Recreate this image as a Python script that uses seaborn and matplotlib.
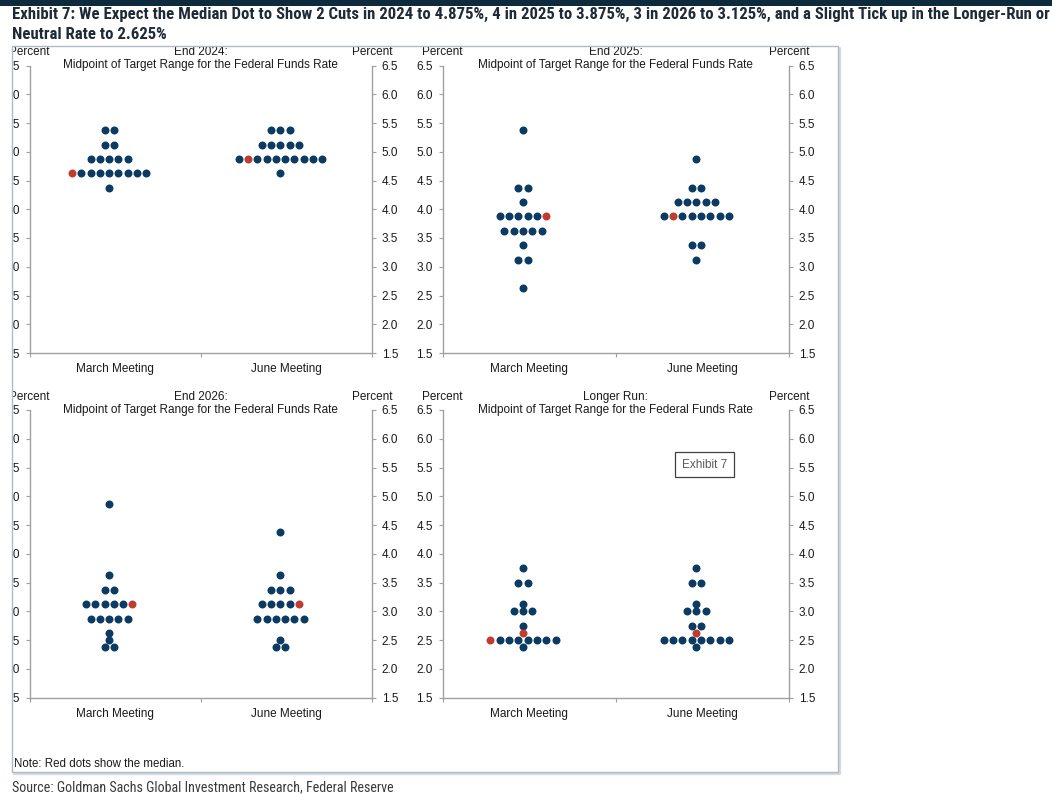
import numpy as np
import pandas as pd
import matplotlib
matplotlib.use("Agg")
import matplotlib.pyplot as plt
import seaborn as sns
from matplotlib.patches import Rectangle
from matplotlib.lines import Line2D
from matplotlib.ticker import FormatStrFormatter
from matplotlib import font_manager as fm

# ---------------- data ----------------
meetings = ["March Meeting", "June Meeting"]
panel_titles = ["End 2024:", "End 2025:", "End 2026:", "Longer Run:"]
subtitle = "Midpoint of Target Range for the Federal Funds Rate"

# each row: rate and a dot pattern (B = participant, R = median, red)
end2024_march_rates = [5.375, 5.125, 4.875, 4.625, 4.375]
end2024_march_dots = ["BB", "BB", "BBBBB", "RBBBBBBBB", "B"]
end2024_june_rates = [5.375, 5.125, 4.875, 4.625]
end2024_june_dots = ["BBB", "BBBBB", "BRBBBBBBBB", "B"]

end2025_march_rates = [5.375, 4.375, 4.125, 3.875, 3.625, 3.375, 3.125, 2.625]
end2025_march_dots = ["B", "BB", "B", "BBBBBR", "BBBBB", "B", "BB", "B"]
end2025_june_rates = [4.875, 4.375, 4.125, 3.875, 3.375, 3.125]
end2025_june_dots = ["B", "BB", "BBBBB", "BRBBBBBB", "BB", "B"]

end2026_march_rates = [4.875, 3.625, 3.375, 3.125, 2.875, 2.625, 2.5, 2.375]
end2026_march_dots = ["B", "B", "BB", "BBBBBR", "BBBBB", "B", "B", "BB"]
end2026_june_rates = [4.375, 3.625, 3.375, 3.125, 2.875, 2.5, 2.375]
end2026_june_dots = ["B", "B", "BBB", "BBBBR", "BBBBBB", "B", "BB"]

longer_march_rates = [3.75, 3.5, 3.125, 3.0, 2.75, 2.625, 2.5, 2.375]
longer_march_dots = ["B", "BB", "B", "BBB", "B", "R", "RBBBBBBB", "B"]
longer_june_rates = [3.75, 3.5, 3.125, 3.0, 2.75, 2.625, 2.5, 2.375]
longer_june_dots = ["B", "BB", "B", "BBB", "BB", "R", "BBBBBBBB", "B"]

y_ticks = [1.5, 2.0, 2.5, 3.0, 3.5, 4.0, 4.5, 5.0, 5.5, 6.0, 6.5]

# ---------------- style ----------------
sns.set_style("white")
names = {f.name for f in fm.fontManager.ttflist}
BASE = next((n for n in ["Liberation Sans", "Arial", "DejaVu Sans"] if n in names), "DejaVu Sans")
COND = next((n for n in ["Liberation Sans Narrow", "Roboto Condensed", "Open Sans Condensed",
                         "DejaVu Sans Condensed", "Liberation Sans", "DejaVu Sans"] if n in names), "DejaVu Sans")
plt.rcParams["font.family"] = [BASE, "DejaVu Sans"]

NAVY = "#0b3a63"
RED = "#c23b30"
GRAY = "#a0a0a0"
TXT = "#1a1a1a"
FS = 8.5

W, H = 1052, 794
fig = plt.figure(figsize=(W / 100, H / 100), dpi=100)


def px_axes(l, t, r, b):
    return fig.add_axes([l / W, 1 - b / H, (r - l) / W, (b - t) / H])


DX = 0.054       # horizontal spacing between dots in a row (data units)
SHIFT = -0.035   # dot columns sit slightly left of category centres


def build(rates, rows, center):
    recs = []
    for rate, row in zip(rates, rows):
        n = len(row)
        for i, c in enumerate(row):
            recs.append({"x": center + SHIFT + (i - (n - 1) / 2) * DX,
                         "rate": rate,
                         "kind": "Median" if c == "R" else "Participant"})
    return pd.DataFrame(recs)


panels = [
    ((29.5, 65.5, 372, 353), end2024_march_rates, end2024_march_dots, end2024_june_rates, end2024_june_dots),
    ((442.5, 65.5, 789, 353), end2025_march_rates, end2025_march_dots, end2025_june_rates, end2025_june_dots),
    ((29.5, 410, 372, 697.7), end2026_march_rates, end2026_march_dots, end2026_june_rates, end2026_june_dots),
    ((442.5, 410, 789, 697.7), longer_march_rates, longer_march_dots, longer_june_rates, longer_june_dots),
]

axes = []
for k, (box, mr, md, jr, jd) in enumerate(panels):
    ax = px_axes(*box)
    axes.append(ax)
    df = pd.concat([build(mr, md, 0.5), build(jr, jd, 1.5)], ignore_index=True)
    sns.scatterplot(data=df[df.kind == "Participant"], x="x", y="rate", color=NAVY,
                    s=33, linewidth=0, legend=False, ax=ax, zorder=3)
    sns.scatterplot(data=df[df.kind == "Median"], x="x", y="rate", color=RED,
                    s=33, linewidth=0, legend=False, ax=ax, zorder=4)
    ax.set_xlim(0, 2)
    ax.set_ylim(1.5, 6.5)
    ax.set_xlabel("")
    ax.set_ylabel("")
    ax.set_facecolor("none")
    ax.grid(False)
    ax.set_yticks(y_ticks)
    ax.yaxis.set_major_formatter(FormatStrFormatter("%.1f"))
    ax.tick_params(axis="y", which="both", left=True, right=True, labelleft=True, labelright=True,
                   direction="out", length=3, width=0.8, color=GRAY, labelsize=FS,
                   labelcolor=TXT, pad=4)
    ax.set_xticks([0.5, 1.5])
    ax.set_xticklabels(meetings)
    ax.set_xticks([0, 1, 2], minor=True)
    ax.tick_params(axis="x", which="major", length=0, pad=7.5, labelsize=FS, labelcolor=TXT)
    ax.tick_params(axis="x", which="minor", bottom=True, direction="out", length=3, width=0.8, color=GRAY)
    for s in ["left", "right", "bottom"]:
        ax.spines[s].set_visible(True)
        ax.spines[s].set_color(GRAY)
        ax.spines[s].set_linewidth(1.0)
    ax.spines["top"].set_visible(False)

    kw = dict(xycoords="axes fraction", textcoords="offset points", ha="center", va="center",
              fontsize=FS, color=TXT)
    ax.annotate(panel_titles[k], xy=(0.5, 1), xytext=(0, 9.6), **kw)
    ax.annotate(subtitle, xy=(0.5, 1), xytext=(0, 0.3), **kw)
    ax.annotate("Percent", xy=(0, 1), xytext=(0, 9.6), **kw)
    ax.annotate("Percent", xy=(1, 1), xytext=(0, 9.6), **kw)

axes[3].text(0.756, 0.809, "Exhibit 7", transform=axes[3].transAxes, ha="center", va="center",
             fontsize=FS, color="#595959",
             bbox=dict(boxstyle="square,pad=0.55", fc="white", ec="#404040", lw=0.9))


def frect(x0, y0, x1, y1, **kw):
    r = Rectangle((x0 / W, 1 - y1 / H), (x1 - x0) / W, (y1 - y0) / H,
                  transform=fig.transFigure, **kw)
    fig.add_artist(r)
    return r


def fline(xs, ys, **kw):
    ln = Line2D([x / W for x in xs], [1 - y / H for y in ys], transform=fig.transFigure, **kw)
    fig.add_artist(ln)
    return ln


# clipping of labels at the frame edges, frame (with soft shadow), header bar
frect(0, 41, 850, 47, facecolor="white", edgecolor="none", zorder=5)
frect(0, 46, 11.8, 772, facecolor="white", edgecolor="none", zorder=5)
fline([14, 839.6, 839.6], [773.6, 773.6, 48], color="#d3dae2", lw=1.6, zorder=6)
frect(12, 46, 838, 772, facecolor="none", edgecolor="#aebac6", lw=1.0, zorder=6)
frect(0, 0, W, 6, facecolor="#0e2b3e", edgecolor="none", zorder=6)

t1 = fig.text(12 / W, 1 - 14.5 / H,
              "Exhibit 7: We Expect the Median Dot to Show 2 Cuts in 2024 to 4.875%, 4 in 2025 to 3.875%, "
              "3 in 2026 to 3.125%, and a Slight Tick up in the Longer-Run or",
              ha="left", va="center", fontfamily=[COND, "DejaVu Sans"], fontstretch="condensed",
              fontweight="bold", fontsize=12, color="#1e2a35", zorder=7)
t2 = fig.text(12 / W, 1 - 34.5 / H, "Neutral Rate to 2.625%",
              ha="left", va="center", fontfamily=[COND, "DejaVu Sans"], fontstretch="condensed",
              fontweight="bold", fontsize=12, color="#1e2a35", zorder=7)
fig.text(14 / W, 1 - 764 / H, "Note: Red dots show the median.", ha="left", va="center",
         fontsize=8.3, color=TXT, zorder=7)
t3 = fig.text(12 / W, 1 - 787.5 / H, "Source: Goldman Sachs Global Investment Research, Federal Reserve",
              ha="left", va="center", fontfamily=[COND, "DejaVu Sans"], fontstretch="condensed",
              fontsize=10, color="#3a3a3a", zorder=7)

renderer = fig.canvas.get_renderer()
w1 = t1.get_window_extent(renderer).width
f1 = 12 * 1033 / w1
t1.set_fontsize(f1)
t2.set_fontsize(f1)
w3 = t3.get_window_extent(renderer).width
t3.set_fontsize(10 * 380 / w3)

fig.savefig("out.png", dpi=100, facecolor="white")
